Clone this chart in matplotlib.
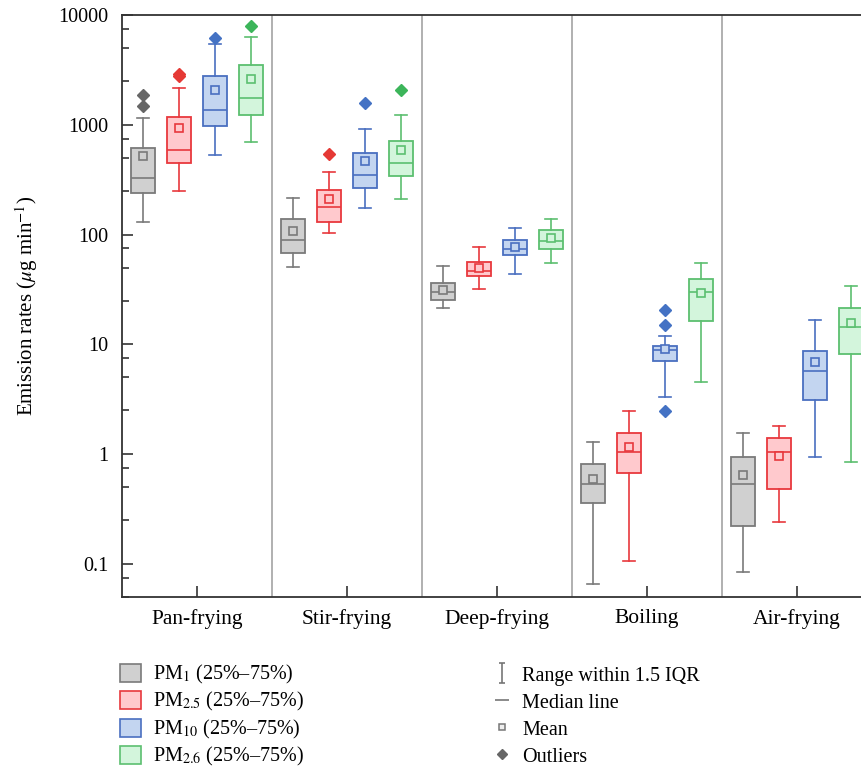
import numpy as np
import matplotlib
matplotlib.use('Agg')
from matplotlib import pyplot as plt
from matplotlib.patches import Patch
from matplotlib.lines import Line2D
from matplotlib.path import Path
from matplotlib.ticker import FixedLocator, FuncFormatter, NullFormatter

plt.rcParams['font.family'] = ['Liberation Serif', 'DejaVu Serif']
plt.rcParams['mathtext.fontset'] = 'stix'

methods = ['Pan-frying', 'Stir-frying', 'Deep-frying', 'Boiling', 'Air-frying']
species = ['PM$_1$', 'PM$_{2.5}$', 'PM$_{10}$', 'PM$_{2.6}$']

# per species: lower whisker, q1, median, q3, upper whisker, mean, outliers
pm1_lo = [131, 51, 21.4, 0.066, 0.084]
pm1_q1 = [238, 68.6, 25.3, 0.36, 0.221]
pm1_med = [330, 89.5, 30.3, 0.54, 0.537]
pm1_q3 = [620, 139, 36.1, 0.821, 0.951]
pm1_hi = [1156, 216, 51.9, 1.29, 1.56]
pm1_mean = [521, 108, 31.6, 0.596, 0.652]
pm1_out = [[1486, 1860], [], [], [], []]

pm25_lo = [248, 104, 31.8, 0.107, 0.242]
pm25_q1 = [447, 131, 41.8, 0.676, 0.486]
pm25_med = [591, 178, 47, 1.056, 1.05]
pm25_q3 = [1188, 255, 56.1, 1.57, 1.39]
pm25_hi = [2183, 370, 76.8, 2.48, 1.81]
pm25_mean = [943, 211, 49.4, 1.158, 0.971]
pm25_out = [[2780, 2900], [547], [], [], []]

pm10_lo = [529, 175, 43.9, 3.32, 0.945]
pm10_q1 = [984, 266, 64.9, 7.12, 3.12]
pm10_med = [1358, 350, 73.6, 8.97, 5.77]
pm10_q3 = [2787, 558, 88.9, 9.75, 8.78]
pm10_hi = [5420, 923, 116, 11.8, 16.6]
pm10_mean = [2093, 469, 77.3, 9.09, 6.89]
pm10_out = [[6225], [1585], [], [2.48, 15.1, 20.6], []]

pm26_lo = [695, 213, 55.3, 4.55, 0.846]
pm26_q1 = [1239, 340, 73.6, 16.3, 8.14]
pm26_med = [1770, 447, 87.1, 29.9, 14.4]
pm26_q3 = [3532, 713, 109, 39.5, 21.4]
pm26_hi = [6357, 1239, 139, 55.6, 34.3]
pm26_mean = [2635, 595, 93.3, 29.6, 15.7]
pm26_out = [[7910], [2093], [], [], []]

all_data = [
    (pm1_lo, pm1_q1, pm1_med, pm1_q3, pm1_hi, pm1_mean, pm1_out),
    (pm25_lo, pm25_q1, pm25_med, pm25_q3, pm25_hi, pm25_mean, pm25_out),
    (pm10_lo, pm10_q1, pm10_med, pm10_q3, pm10_hi, pm10_mean, pm10_out),
    (pm26_lo, pm26_q1, pm26_med, pm26_q3, pm26_hi, pm26_mean, pm26_out),
]

faces = ['#d0d0d0', '#ffc9cd', '#c3d5f0', '#d3f5dc']
edges = ['#7a7a7a', '#e8383d', '#4a6fc0', '#5cbf70']
flier_cols = ['#666666', '#e53935', '#4472c4', '#3cb55a']
offsets = [-0.36, -0.12, 0.12, 0.36]
box_w = 0.155

fig = plt.figure(figsize=(8.61, 7.69), dpi=100)
ax = fig.add_axes([122 / 861, 1 - 597 / 769, 1 - 122 / 861, (597 - 15) / 769])
ax.set_yscale('log')

x = np.arange(len(methods))
for i, (lo, q1, med, q3, hi, mean, out) in enumerate(all_data):
    stats = []
    for j in range(len(methods)):
        stats.append(dict(whislo=lo[j], q1=q1[j], med=med[j], q3=q3[j],
                          whishi=hi[j], mean=mean[j], fliers=out[j]))
    ax.bxp(stats, positions=x + offsets[i], widths=box_w, patch_artist=True,
           showmeans=True, manage_ticks=False,
           boxprops=dict(facecolor=faces[i], edgecolor=edges[i], linewidth=1.3),
           whiskerprops=dict(color=edges[i], linewidth=1.2),
           capprops=dict(color=edges[i], linewidth=1.2),
           medianprops=dict(color=edges[i], linewidth=1.2),
           meanprops=dict(marker='s', markerfacecolor=faces[i],
                          markeredgecolor=edges[i], markersize=5.5, markeredgewidth=1.2),
           flierprops=dict(marker='D', markerfacecolor=flier_cols[i],
                           markeredgecolor=flier_cols[i], markersize=6))

for s in x[:-1] + 0.5:
    ax.axvline(s, color='#aaaaaa', lw=1.3, zorder=0)

ax.set_xlim(-0.5, -0.5 + 739 / 150)
ax.set_ylim(0.05, 10000)
ax.set_xticks(x)
ax.set_xticklabels(methods, fontsize=15.5)
ax.yaxis.set_major_locator(FixedLocator([0.1, 1, 10, 100, 1000, 10000]))
ax.yaxis.set_major_formatter(FuncFormatter(lambda v, p: '%g' % v))
ax.yaxis.set_minor_locator(FixedLocator([m * 10.0 ** k for k in range(-2, 4) for m in (2.5, 5, 7.5)]))
ax.yaxis.set_minor_formatter(NullFormatter())
ax.tick_params(axis='both', which='major', direction='in', length=8, width=1.2,
               color='#333333')
ax.tick_params(axis='y', which='major', labelsize=14.5)
ax.tick_params(axis='y', which='minor', direction='in', length=5, width=1.2, color='#333333')
ax.tick_params(axis='x', pad=9)
ax.tick_params(axis='y', pad=10)
ax.spines['right'].set_visible(False)
for sp in ['left', 'bottom', 'top']:
    ax.spines[sp].set_linewidth(1.3)
    ax.spines[sp].set_color('#333333')
ax.set_ylabel(r'Emission rates ($\mu$g min$^{-1}$)', fontsize=15, labelpad=13)

# legend, left column: box patches
box_handles = [Patch(facecolor=faces[i], edgecolor=edges[i], linewidth=1.2) for i in range(4)]
box_labels = [sp + ' (25%–75%)' for sp in species]
leg1 = fig.legend(box_handles, box_labels, loc='upper left',
                  bbox_to_anchor=(120 / 861, 1 - 663 / 769), frameon=False,
                  fontsize=14.5, handlelength=1.05, handleheight=1.0,
                  handletextpad=0.6, labelspacing=0.22, borderpad=0, borderaxespad=0)

ibeam = Path([(-0.35, -1), (0.35, -1), (0, -1), (0, 1), (-0.35, 1), (0.35, 1)],
             [Path.MOVETO, Path.LINETO, Path.MOVETO, Path.LINETO, Path.MOVETO, Path.LINETO])
sym_handles = [
    Line2D([], [], linestyle='none', marker=ibeam, markersize=14,
           markerfacecolor='none', markeredgecolor='#777777', markeredgewidth=1.2),
    Line2D([], [], linestyle='none', marker='_', markersize=10,
           markeredgecolor='#777777', markeredgewidth=1.2),
    Line2D([], [], linestyle='none', marker='s', markersize=5,
           markerfacecolor='#eeeeee', markeredgecolor='#777777', markeredgewidth=1.1),
    Line2D([], [], linestyle='none', marker='D', markersize=5.5,
           markerfacecolor='#666666', markeredgecolor='#666666'),
]
sym_labels = ['Range within 1.5 IQR', 'Median line', 'Mean', 'Outliers']
leg2 = fig.legend(sym_handles, sym_labels, loc='upper left',
                  bbox_to_anchor=(492 / 861, 1 - 665 / 769), frameon=False,
                  fontsize=14.5, handlelength=1.0, handleheight=1.0,
                  handletextpad=0.5, labelspacing=0.31, borderpad=0, borderaxespad=0)

fig.savefig('out.png', dpi=100)
